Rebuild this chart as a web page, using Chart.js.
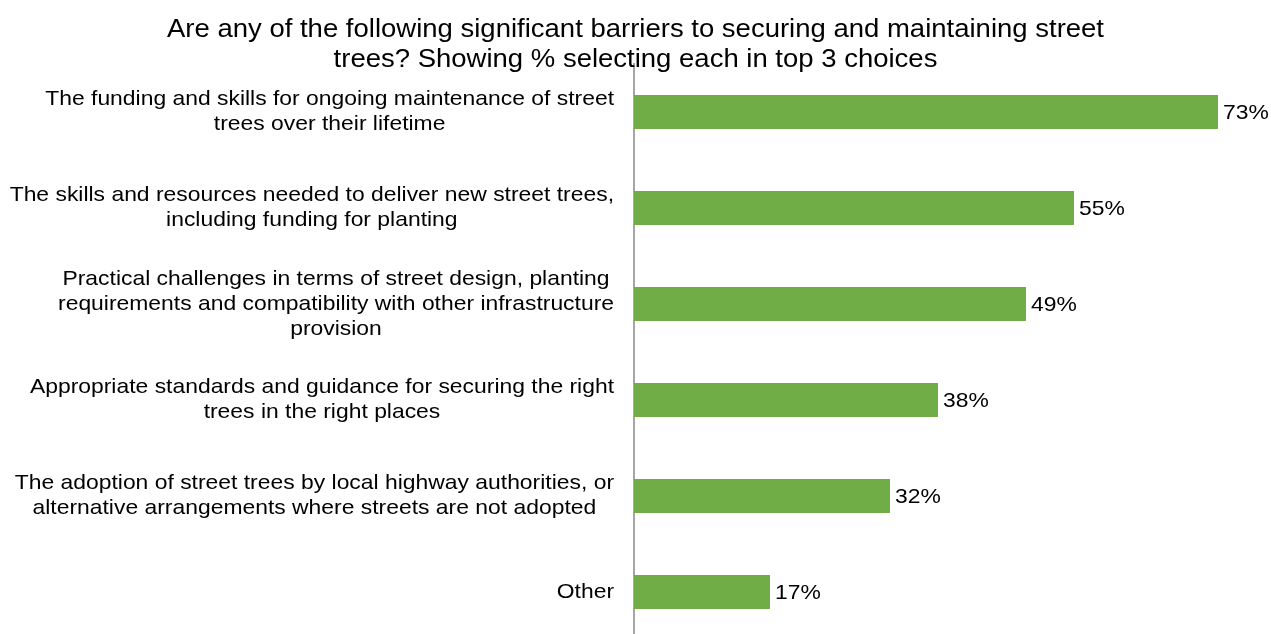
<!DOCTYPE html>
<html>
<head>
<meta charset="utf-8">
<script src="https://cdn.jsdelivr.net/npm/chart.js@4/dist/chart.umd.min.js"></script>
<style>
  html, body { margin: 0; padding: 0; background: #fff; overflow: hidden; }
  #wrap { width: 1271px; height: 634px; overflow: hidden; }
  #box { width: 1271px; height: 640px; }
</style>
</head>
<body>
<div id="wrap"><div id="box"><canvas id="barriersChart"></canvas></div></div>
<script>
const titleLines = [
  "Are any of the following significant barriers to securing and maintaining street",
  "trees? Showing % selecting each in top 3 choices"
];

const barriers = [
  ["The funding and skills for ongoing maintenance of street", "trees over their lifetime"],
  ["The skills and resources needed to deliver new street trees,", "including funding for planting"],
  ["Practical challenges in terms of street design, planting", "requirements and compatibility with other infrastructure", "provision"],
  ["Appropriate standards and guidance for securing the right", "trees in the right places"],
  ["The adoption of street trees by local highway authorities, or", "alternative arrangements where streets are not adopted"],
  ["Other"]
];

const percentSelected = [73, 55, 49, 38, 32, 17];

const FONT = "Arial, 'Liberation Sans', sans-serif";

// text a little wider than the font's natural width
function wideText(ctx, text, x, y, sx) {
  ctx.save();
  ctx.translate(x, y);
  ctx.scale(sx, 1);
  ctx.fillText(text, 0, 0);
  ctx.restore();
}

const labelPlugin = {
  id: 'barLabels',
  afterDraw(chart) {
    const { ctx, scales: { x, y } } = chart;
    ctx.save();
    ctx.fillStyle = '#000';
    ctx.textBaseline = 'middle';

    // heading, centred on the canvas
    ctx.font = '25px ' + FONT;
    ctx.textAlign = 'center';
    titleLines.forEach((l, j) => wideText(ctx, l, chart.width / 2, 30 + j * 30.5, 1.1));

    // category labels: block right-aligned to the axis, lines centred inside it
    const sx = 1.09;
    ctx.font = '21px ' + FONT;
    const lineH = 25;
    const right = x.left - 20;
    barriers.forEach((lines, i) => {
      const cy = y.getPixelForValue(i);
      const w = Math.max(...lines.map(l => ctx.measureText(l).width)) * sx;
      ctx.textAlign = 'center';
      lines.forEach((l, j) => {
        wideText(ctx, l, right - w / 2, cy + (j - (lines.length - 1) / 2) * lineH, sx);
      });
      // value at the end of the bar
      ctx.textAlign = 'left';
      wideText(ctx, percentSelected[i] + '%', x.getPixelForValue(percentSelected[i]) + 5, cy + 1, sx);
    });
    ctx.restore();
  }
};

new Chart(document.getElementById('barriersChart'), {
  type: 'bar',
  data: {
    labels: barriers,
    datasets: [{
      data: percentSelected,
      backgroundColor: '#70ad47',
      borderWidth: 0,
      categoryPercentage: 1,
      barPercentage: 0.355
    }]
  },
  options: {
    indexAxis: 'y',
    responsive: true,
    maintainAspectRatio: false,
    animation: false,
    layout: { padding: { left: 0, right: 5, top: 64, bottom: 0 } },
    plugins: {
      legend: { display: false },
      tooltip: { enabled: false },
      title: { display: false }
    },
    scales: {
      x: { display: false, min: 0, max: 79 },
      y: {
        ticks: { display: false },
        grid: { display: false },
        border: { display: true, color: '#a6a6a6', width: 2 },
        afterFit(scale) { scale.width = 634; }
      }
    }
  },
  plugins: [labelPlugin]
});
</script>
</body>
</html>
